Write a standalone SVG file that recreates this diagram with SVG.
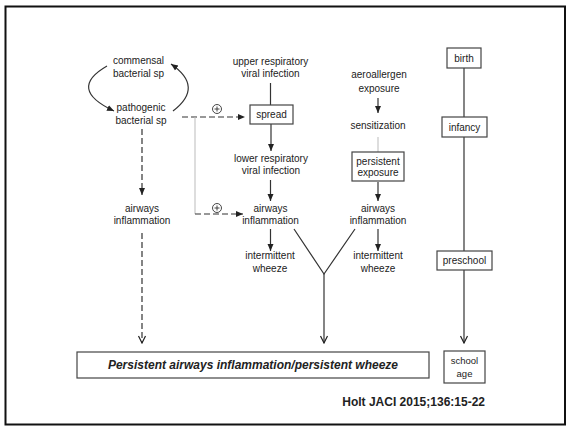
<svg xmlns="http://www.w3.org/2000/svg" width="567" height="426" viewBox="0 0 567 426">
<defs>
<marker id="arr" markerUnits="userSpaceOnUse" markerWidth="8" markerHeight="8" viewBox="0 0 8 8" refX="7" refY="4" orient="auto">
<path d="M0,1 L7,4 L0,7 Z" fill="#222"/>
</marker>
<marker id="open" markerUnits="userSpaceOnUse" markerWidth="10" markerHeight="10" viewBox="0 0 10 10" refX="9" refY="5" orient="auto">
<path d="M2,1.5 L9,5 L2,8.5" fill="none" stroke="#222" stroke-width="1.2"/>
</marker>
</defs>
<style>
text{font-family:"Liberation Sans",Arial,sans-serif;font-size:10px;fill:#222;text-anchor:middle}
.box{fill:#fff;stroke:#444;stroke-width:1.2}
.ln{fill:none;stroke:#333;stroke-width:1.2}
.dash{fill:none;stroke:#333;stroke-width:1.2;stroke-dasharray:6 3}
.gray{fill:none;stroke:#bbb;stroke-width:1}
.big{font-size:12px;font-weight:bold;font-style:italic}
.cite{font-size:12px;font-weight:bold;text-anchor:end}
</style>
<rect x="0" y="0" width="567" height="426" fill="#fff"/>
<rect x="5.5" y="6.5" width="559.5" height="418" fill="none" stroke="#111" stroke-width="2"/>

<g id="connectors">
<path class="ln" d="M107,66 Q67,89 114,111" marker-end="url(#arr)"/>
<path class="ln" d="M173,111 Q204.5,87 171,64" marker-end="url(#arr)"/>
<line class="ln" x1="270.5" y1="83" x2="270.5" y2="105"/>
<line class="ln" x1="271" y1="124" x2="271" y2="151" marker-end="url(#arr)"/>
<line class="ln" x1="270.5" y1="180" x2="270.5" y2="201" marker-end="url(#arr)"/>
<line class="ln" x1="270.5" y1="229" x2="270.5" y2="251" marker-end="url(#arr)"/>
<line class="ln" x1="378" y1="98" x2="378" y2="113" marker-end="url(#arr)"/>
<line class="gray" x1="378" y1="137" x2="378" y2="152"/>
<line class="ln" x1="378" y1="182" x2="378" y2="201" marker-end="url(#arr)"/>
<line class="ln" x1="378" y1="229" x2="378" y2="251" marker-end="url(#arr)"/>
<path class="ln" d="M294,229 L324,274 L355,229"/>
<line class="ln" x1="324" y1="274" x2="324" y2="343" marker-end="url(#open)"/>
<line class="dash" x1="182" y1="117" x2="245" y2="117" marker-end="url(#arr)"/>
<line class="dash" x1="142" y1="129" x2="142" y2="195" marker-end="url(#arr)"/>
<line class="dash" x1="142" y1="233" x2="142" y2="343" marker-end="url(#open)"/>
<line class="gray" x1="195" y1="117" x2="195" y2="214"/>
<line class="dash" x1="195" y1="214" x2="243" y2="214" marker-end="url(#arr)"/>
<line class="ln" x1="464" y1="68" x2="464" y2="117"/>
<line class="ln" x1="464" y1="137" x2="464" y2="251"/>
<line class="ln" x1="464" y1="270" x2="464" y2="343" marker-end="url(#open)"/>
<g id="plus1"><circle cx="217" cy="109" r="4.5" fill="#fff" stroke="#333" stroke-width="0.9"/><path d="M214.5,109 H219.5 M217,106.5 V111.5" stroke="#333" stroke-width="0.9"/></g>
<g id="plus2"><circle cx="217" cy="208" r="4.5" fill="#fff" stroke="#333" stroke-width="0.9"/><path d="M214.5,208 H219.5 M217,205.5 V210.5" stroke="#333" stroke-width="0.9"/></g>
</g>

<g id="commensal"><text x="138.5" y="64">commensal</text><text x="138.5" y="77">bacterial sp</text></g>
<g id="pathogenic"><text x="141" y="111">pathogenic</text><text x="141" y="124">bacterial sp</text></g>
<g id="airways-left"><text x="142" y="212">airways</text><text x="142" y="224">inflammation</text></g>
<g id="upper"><text x="270.5" y="65">upper respiratory</text><text x="270.5" y="77">viral infection</text></g>
<g id="spread"><rect class="box" x="250" y="105" width="43" height="19"/><text x="271.5" y="118">spread</text></g>
<g id="lower"><text x="271" y="162">lower respiratory</text><text x="271" y="174">viral infection</text></g>
<g id="airways-mid"><text x="270.5" y="212">airways</text><text x="270.5" y="224">inflammation</text></g>
<g id="wheeze-mid"><text x="270" y="259">intermittent</text><text x="270" y="272">wheeze</text></g>
<g id="aeroallergen"><text x="379" y="78">aeroallergen</text><text x="379" y="92">exposure</text></g>
<g id="sensitization"><text x="378" y="129">sensitization</text></g>
<g id="persistent-exposure"><rect class="box" x="352" y="152" width="52" height="29"/><text x="378" y="165">persistent</text><text x="378" y="176">exposure</text></g>
<g id="airways-right"><text x="378" y="212">airways</text><text x="378" y="224">inflammation</text></g>
<g id="wheeze-right"><text x="378" y="259">intermittent</text><text x="378" y="272">wheeze</text></g>
<g id="birth"><rect class="box" x="447" y="48" width="34" height="20"/><text x="464" y="62">birth</text></g>
<g id="infancy"><rect class="box" x="442" y="117" width="45" height="20"/><text x="464.5" y="131">infancy</text></g>
<g id="preschool"><rect class="box" x="437" y="251" width="55" height="19"/><text x="464.5" y="264">preschool</text></g>
<g id="school-age"><rect class="box" x="444" y="351" width="41" height="32"/><text x="464.5" y="364" style="font-size:9.5px">school</text><text x="464.5" y="377" style="font-size:9.5px">age</text></g>
<g id="persistent"><rect class="box" x="77" y="352" width="352" height="26"/><text class="big" x="253" y="369">Persistent airways inflammation/persistent wheeze</text></g>
<g id="citation"><text class="cite" x="485" y="406">Holt JACI 2015;136:15-22</text></g>
</svg>
